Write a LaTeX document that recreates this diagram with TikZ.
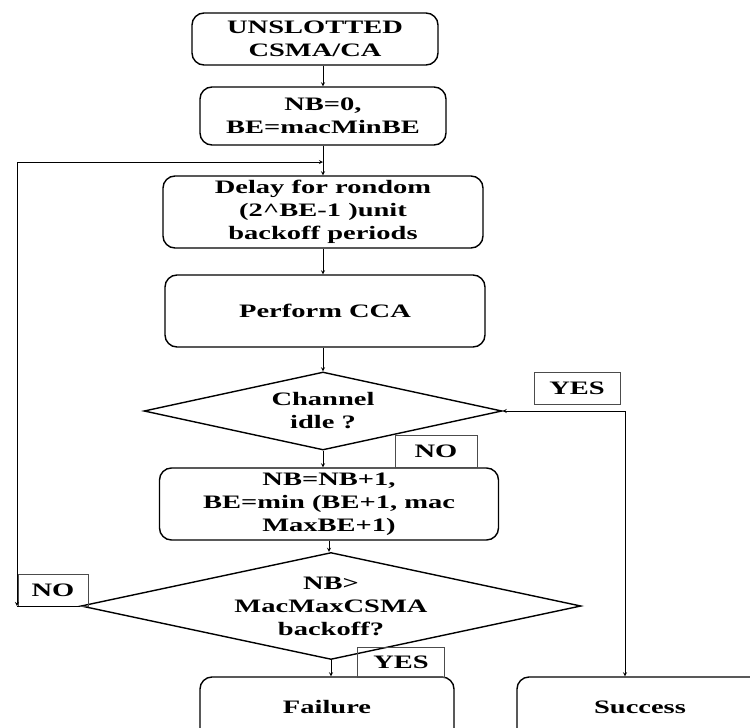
\documentclass[tikz,border=0pt]{standalone}
\usepackage{fontspec}
\setmainfont[FakeStretch=1.5]{Liberation Serif}
\usetikzlibrary{shapes.geometric}
\tikzset{
    kasten/.style={draw, line width=1.4pt, rounded corners=12pt, align=center, inner sep=0pt},
    raute/.style={draw, line width=1.4pt, diamond, aspect=4, align=center, inner sep=0pt},
    marke/.style={draw=black!70, line width=0.8pt, inner sep=0pt},
    pfeil/.style={line width=0.8pt, -stealth}
}
\begin{document}
\begin{tikzpicture}[x=1pt, y=-1pt, font=\fontsize{19}{23}\selectfont\bfseries]
            \useasboundingbox (0, 0) rectangle (750, 728);
            \clip (0, 0) rectangle (750, 728);

            % Kaesten
            \node[kasten, minimum width=246, minimum height=52] (start) at (315, 39) {UNSLOTTED\\CSMA/CA};
            \node[kasten, minimum width=246, minimum height=58] (init) at (323, 116) {NB=0,\\BE=macMinBE};
            \node[kasten, minimum width=320, minimum height=72] (delay) at (323, 212) {Delay for rondom\\(2\^{}BE-1 )unit\\backoff periods};
            \node[kasten, minimum width=320, minimum height=72] (cca) at (325, 311) {Perform CCA};
            \node[raute, minimum width=358, minimum height=78] (idle) at (323, 411) {Channel\\idle ?};
            \node[kasten, minimum width=339, minimum height=72] (incr) at (329, 504) {NB=NB+1,\\BE=min (BE+1, mac\\MaxBE+1)};
            \node[raute, minimum width=500, minimum height=95] (limit) at (331, 606) {NB>\\MacMaxCSMA\\backoff?};
            \node[kasten, minimum width=254, minimum height=66] (fail) at (327, 710) {\raisebox{6pt}{Failure}};
            \node[kasten, minimum width=246, minimum height=66] (succ) at (640, 710) {\raisebox{6pt}{Success}};

            % Beschriftungen
            \node[marke, minimum width=86, minimum height=32] (yes1) at (577, 388) {YES};
            \node[marke, minimum width=82, minimum height=32] (no1) at (436, 451) {NO};
            \node[marke, minimum width=70, minimum height=32] (no2) at (53, 590) {NO};
            \node[marke, minimum width=87, minimum height=30] (yes2) at (401, 662) {YES};

            % Hilfspunkte
            \coordinate (join) at (323, 162);
            \coordinate (lt) at (17, 162);
            \coordinate (lb) at (17, 606);
            \coordinate (rt) at (625, 411);

            % Pfeile
            \draw[pfeil] (init.north |- start.south) -- (init.north);
            \draw[line width=0.8pt] (init) -- (join);
            \draw[pfeil] (join) -- (delay);
            \draw[pfeil] (delay.south) -- (delay.south |- cca.north);
            \draw[pfeil] (idle.north |- cca.south) -- (idle.north);
            \draw[pfeil] (idle.south) -- (idle.south |- incr.north);
            \draw[pfeil] (incr.south) -- (incr.south |- limit.north);
            \draw[pfeil] (limit.south) -- (limit.south |- fail.north);
            \draw[pfeil] (rt) -- (idle.east);
            \draw[pfeil] (rt) -- (rt |- succ.north);
            \draw[line width=0.8pt] (limit.west) -- (lb);
            \draw[pfeil] (lt) -- (lb);
            \draw[pfeil] (lt) -- (join);
\end{tikzpicture}
\end{document}
